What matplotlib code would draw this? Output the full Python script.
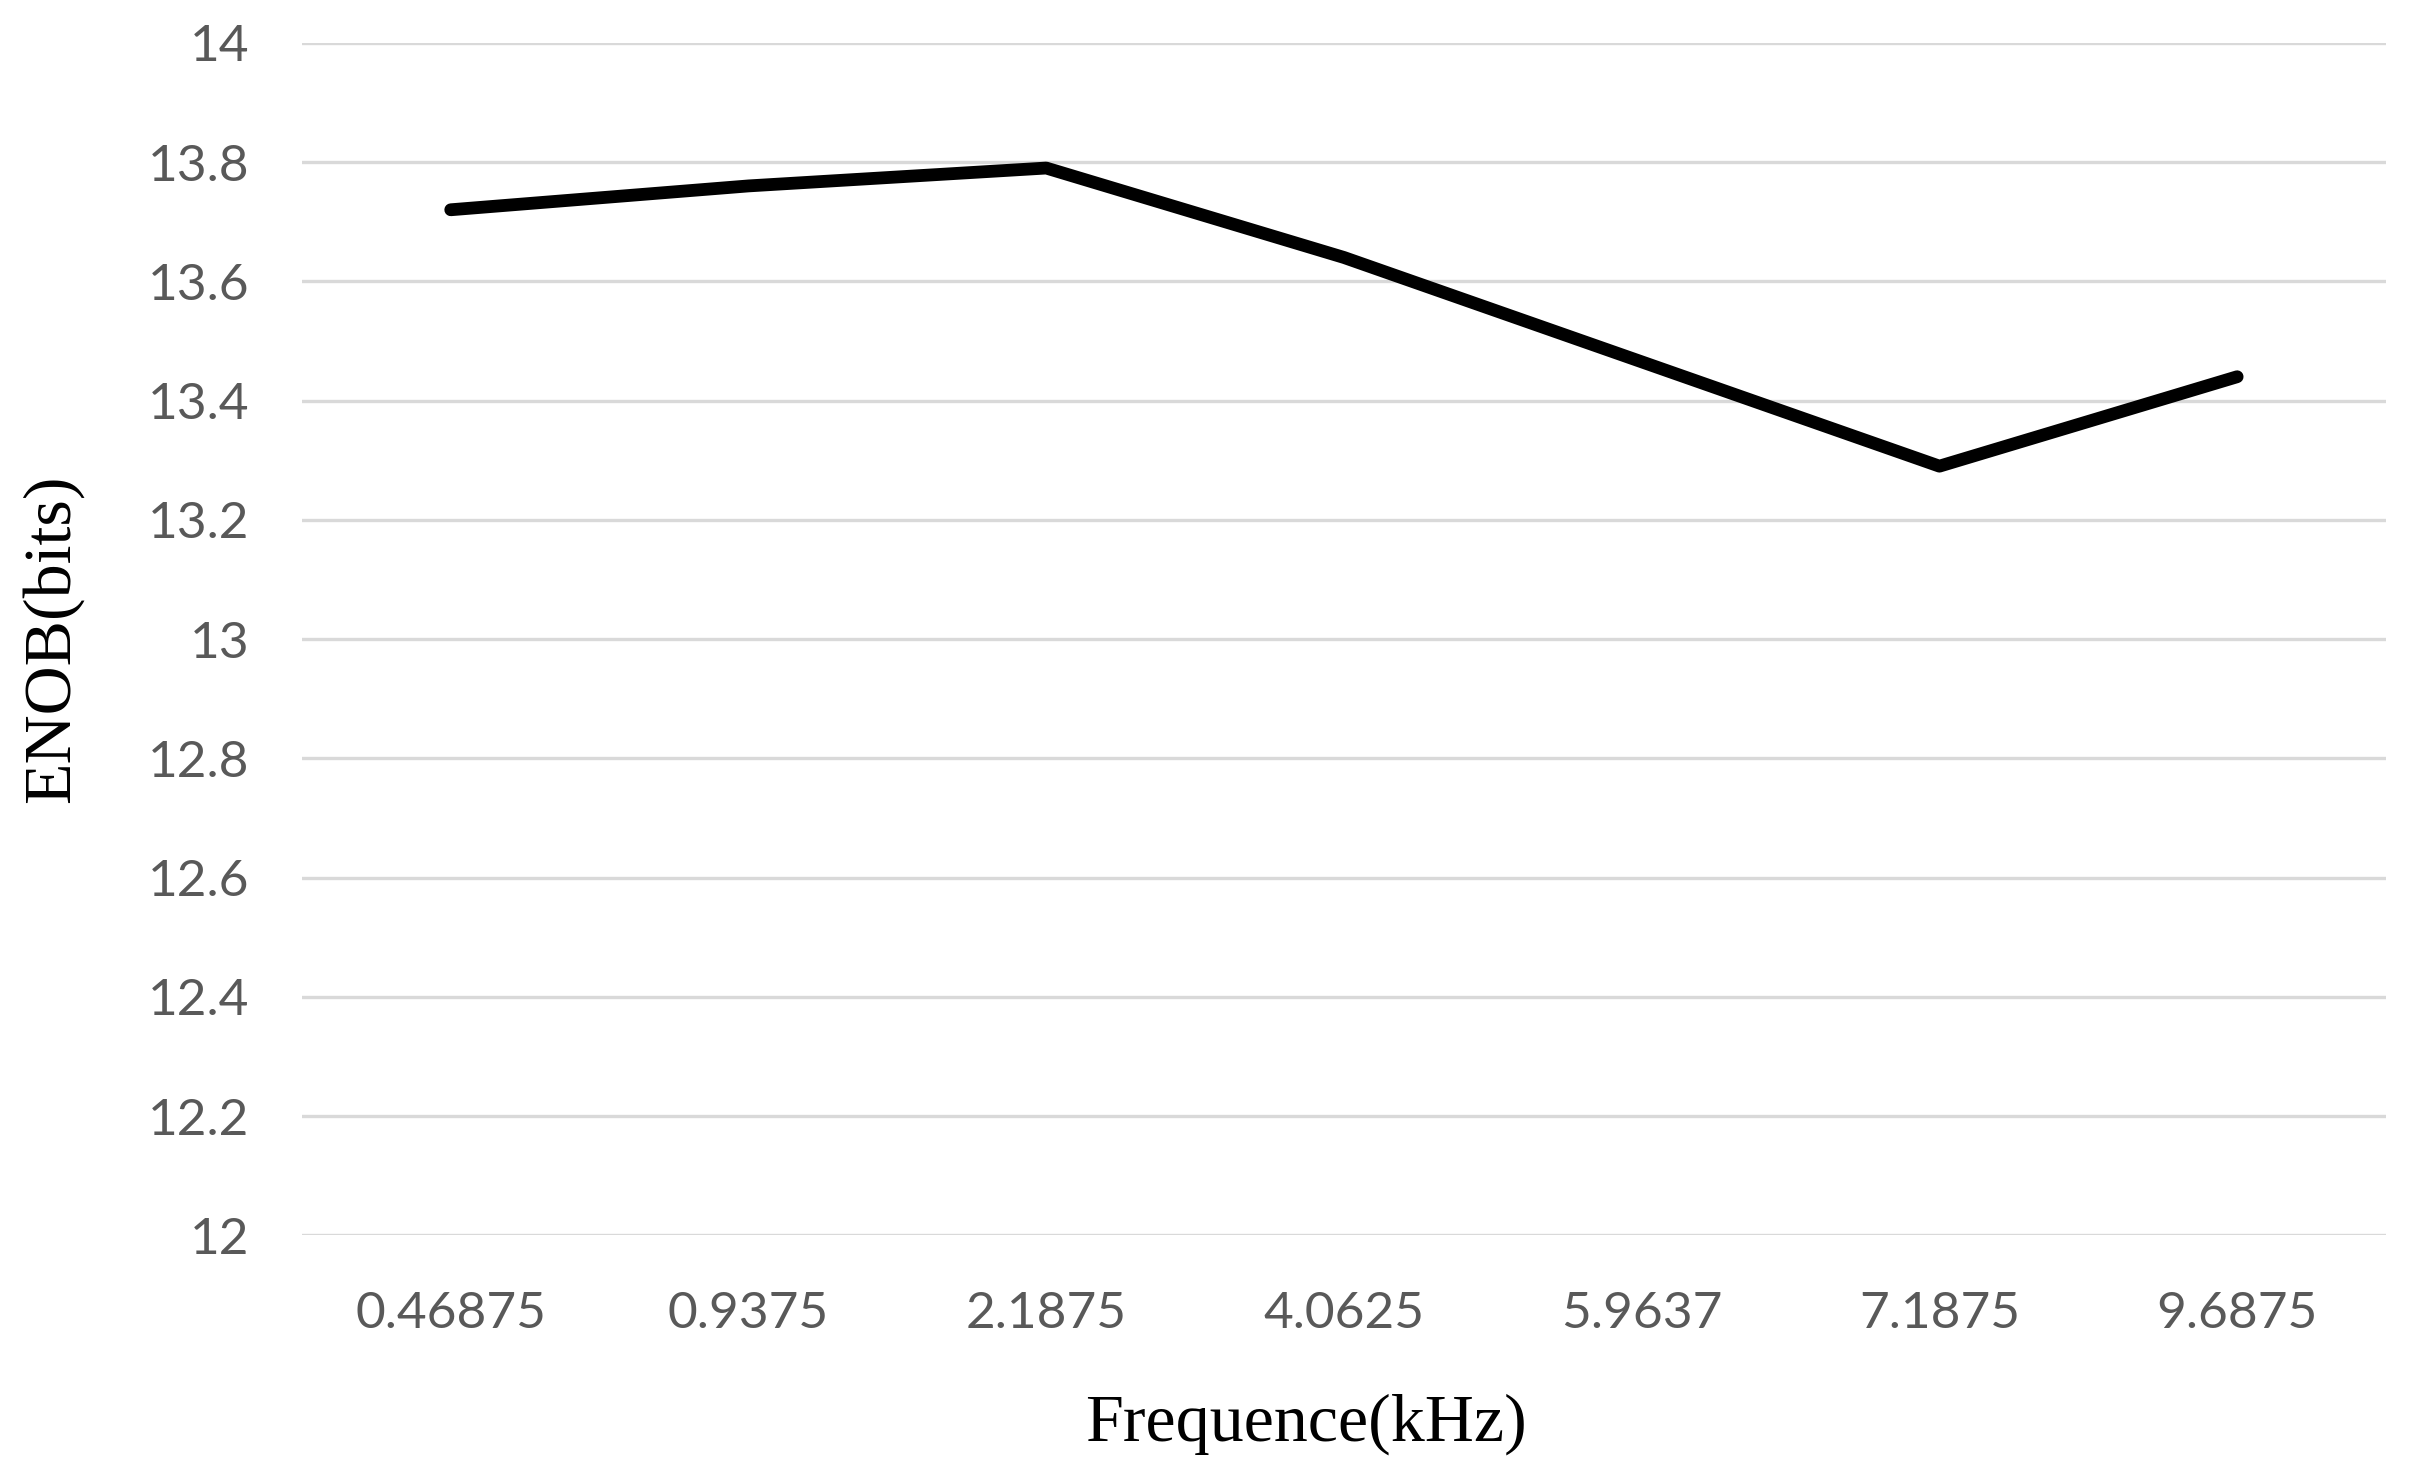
import matplotlib
matplotlib.use("Agg")
import matplotlib.pyplot as plt

categories = ["0.46875", "0.9375", "2.1875", "4.0625", "5.9637", "7.1875", "9.6875"]
enob = [13.72, 13.76, 13.79, 13.64, 13.465, 13.29, 13.44]
y_ticks = [12, 12.2, 12.4, 12.6, 12.8, 13, 13.2, 13.4, 13.6, 13.8, 14]
y_tick_labels = ["12", "12.2", "12.4", "12.6", "12.8", "13", "13.2", "13.4", "13.6", "13.8", "14"]

fig = plt.figure(figsize=(24.15, 14.76), dpi=100)
ax = fig.add_axes([0.125, 0.163, 0.863, 0.808])

x = list(range(len(categories)))
ax.plot(x, enob, color="black", linewidth=9.2, solid_capstyle="round",
        solid_joinstyle="round", zorder=3)

ax.set_xlim(-0.5, len(categories) - 0.5)
ax.set_ylim(12, 14)
ax.set_yticks(y_ticks)
ax.set_yticklabels(y_tick_labels)
ax.set_xticks(x)
ax.set_xticklabels(categories)

tick_font = ["Lato", "DejaVu Sans"]
for lbl in ax.get_xticklabels() + ax.get_yticklabels():
    lbl.set_fontfamily(tick_font)
    lbl.set_fontsize(37)
    lbl.set_color("#595959")

ax.tick_params(axis="x", length=0, pad=40)
ax.tick_params(axis="y", length=0, pad=38)
ax.grid(axis="y", color="#d9d9d9", linewidth=2.4, zorder=0)
ax.set_axisbelow(True)
for s in ax.spines.values():
    s.set_visible(False)

ax.set_xlabel("Frequence(kHz)", fontsize=49, family=["Liberation Serif", "DejaVu Serif"], color="black", va="center")
ax.xaxis.set_label_coords(0.482, -0.158)
ax.set_ylabel("ENOB(bits)", fontsize=49, family=["Liberation Serif", "DejaVu Serif"], color="black", va="center")
ax.yaxis.set_label_coords(-0.120, 0.5)

fig.savefig("out.png", dpi=100, facecolor="white")
